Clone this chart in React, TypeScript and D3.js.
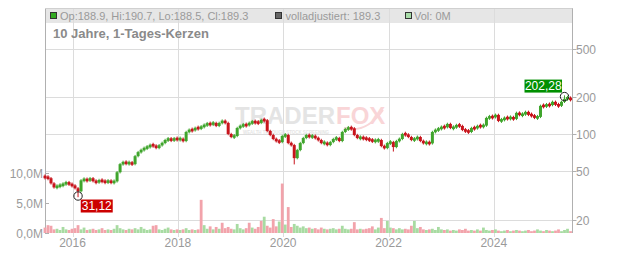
import React from "react";
import * as d3 from "d3";

const W = 632;
const H = 253;
const FONT = "'Liberation Sans', Arial, sans-serif";

// ---- data ----
const startDate = new Date(2015, 5, 24);
const endDate = new Date(2025, 5, 30);
const sampleStepDays = 20.83;
const firstOpen = 44.8;

const closes = [
  44.3, 43.5, 39.5, 36.6, 37.4, 38.1, 38.8, 40.3, 38.6, 38.0,
  36.0, 34.0, 41.8, 42.6, 41.5, 43.5, 41.1, 40.2, 41.9, 41.0,
  40.4, 41.3, 40.1, 41.0, 48.7, 56.7, 58.8, 57.5, 58.1, 56.7,
  65.9, 71.1, 73.9, 76.7, 78.2, 81.2, 80.6, 76.7, 81.0, 84.3,
  89.3, 91.0, 89.0, 91.4, 90.6, 91.2, 87.6, 103.9, 107.9, 107.3,
  112.0, 111.4, 114.2, 118.6, 120.9, 120.2, 123.2, 116.4, 123.2, 127.9,
  123.2, 100.0, 94.5, 96.3, 112.0, 116.4, 118.6, 118.0, 123.2, 125.5,
  124.8, 123.2, 130.4, 129.6, 105.9, 98.1, 91.0, 87.6, 85.9, 96.3,
  98.1, 84.3, 81.2, 63.5, 73.9, 84.3, 92.7, 98.1, 94.5, 96.3,
  92.7, 89.3, 84.3, 84.9, 81.2, 85.9, 91.0, 92.7, 87.6, 103.9,
  109.9, 112.0, 111.3, 98.1, 92.7, 93.4, 92.1, 91.0, 89.3, 87.6,
  88.1, 89.3, 79.7, 76.7, 84.3, 85.9, 78.2, 87.6, 91.0, 100.0,
  99.2, 94.5, 89.3, 91.0, 94.5, 87.6, 84.3, 84.9, 83.8, 103.9,
  107.9, 109.9, 114.2, 113.5, 120.9, 112.0, 112.7, 118.6, 116.4, 107.9,
  105.9, 103.9, 112.0, 111.2, 116.4, 115.6, 117.1, 135.4, 138.0, 137.2,
  143.3, 127.9, 130.4, 135.4, 134.6, 136.1, 132.9, 148.9, 143.3, 144.1,
  151.7, 143.3, 142.4, 135.4, 138.0, 170.0, 169.1, 173.2, 172.3, 183.3,
  173.2, 170.0, 183.3, 194.1, 197.8, 189.3,
];

const volumes = [
  0.9, 1.3, 1.2, 0.6, 0.7, 0.5, 1.0, 0.6, 0.5, 0.7,
  0.8, 1.3, 0.6, 0.9, 0.5, 0.6, 0.7, 0.5, 0.6, 0.8,
  0.5, 0.6, 0.5, 0.7, 1.3, 0.8, 0.6, 0.5, 0.7, 0.6,
  0.8, 0.6, 1.0, 0.7, 0.5, 0.6, 1.2, 1.3, 0.6, 0.5,
  0.7, 0.9, 0.6, 0.5, 0.6, 0.5, 0.6, 0.8, 0.5, 0.6,
  0.5, 0.6, 5.5, 1.3, 0.7, 1.1, 0.6, 1.0, 0.7, 1.7,
  0.8, 1.0, 0.7, 0.6, 1.5, 0.8, 0.6, 0.8, 1.7, 0.9,
  0.7, 1.0, 2.0, 2.7, 1.2, 0.9, 2.3, 1.1, 1.9, 8.2,
  1.4, 4.3, 1.0, 1.5, 1.2, 0.9, 1.1, 0.8, 0.9, 0.7,
  0.8, 0.6, 0.9, 0.7, 0.6, 0.7, 0.8, 0.6, 0.7, 1.2,
  0.7, 0.6, 0.7, 1.8, 0.6, 0.7, 0.6, 0.7, 0.8, 1.1,
  0.6, 0.9, 2.5, 0.8, 2.0, 0.9, 0.8, 0.6, 0.8, 0.6,
  0.7, 0.6, 1.2, 2.0, 0.8, 1.0, 0.6, 0.5, 0.6, 0.7,
  0.5, 1.0, 0.6, 0.5, 0.6, 0.4, 0.5, 0.4, 0.6, 0.5,
  0.7, 0.4, 0.5, 0.4, 0.6, 0.4, 0.9, 0.5, 0.4, 0.5,
  0.6, 0.4, 0.3, 0.4, 0.5, 0.3, 0.4, 0.5, 0.4, 0.3,
  0.4, 0.5, 0.3, 0.4, 0.6, 0.4, 0.3, 0.5, 0.4, 0.3,
  0.4, 0.6, 0.3, 0.5, 0.7, 0.3,
];

// volume spike colours (true = up/green, false = down/pink)
const volumeDirection = [
  { index: 52, up: false },
  { index: 59, up: false },
  { index: 64, up: true },
  { index: 68, up: false },
  { index: 72, up: false },
  { index: 73, up: true },
  { index: 76, up: false },
  { index: 78, up: true },
  { index: 79, up: false },
  { index: 81, up: false },
  { index: 83, up: true },
  { index: 103, up: false },
  { index: 112, up: false },
  { index: 114, up: true },
  { index: 123, up: true },
];

const extraLows = [
  { index: 83, low: 57.7 },
  { index: 116, low: 73.5 },
];

const periodLow = { index: 11, value: 31.12, label: "31,12" };
const periodHigh = { index: 173, value: 202.28, label: "202,28" };

const yearTicks = [2016, 2018, 2020, 2022, 2024];
const priceTicks = [500, 200, 100, 50, 20];
const volumeTicks = [0, 5, 10];

const legendOhlc = "Op:188.9, Hi:190.7, Lo:188.5, Cl:189.3";
const legendAdjusted = "volladjustiert: 189.3";
const legendVolume = "Vol: 0M";
const chartTitle = "10 Jahre, 1-Tages-Kerzen";
const watermarkA = "TRADER";
const watermarkB = "FOX";
const watermarkSub = "WEALTH THROUGH STOCK SCREENING";

// ---- colors ----
const UP = "#3fa52c";
const DOWN = "#c8141c";
const VOL_UP = "#a8dba2";
const VOL_DOWN = "#f2a3ab";
const GRID = "#dcdcdc";
const AXIS = "#b0b0b0";
const TEXT = "#9a9a9a";

export default function App() {
  const left = 45;
  const right = 572.5;
  const top = 8;
  const bottom = 233;

  const x = d3.scaleTime().domain([startDate, endDate]).range([left, right]);
  const y = d3.scaleLog().domain([20, 500]).range([219.5, 48.5]);
  const yVol = d3.scaleLinear().domain([0, 10]).range([bottom, 172.7]);

  const candles = closes.map((c, i) => {
    const o = i === 0 ? firstOpen : closes[i - 1];
    const date = d3.timeHour.offset(startDate, Math.round(i * sampleStepDays * 24));
    let hi = Math.max(o, c);
    let lo = Math.min(o, c);
    const ex = extraLows.find((e) => e.index === i);
    if (ex) lo = Math.min(lo, ex.low);
    if (i === periodLow.index) lo = periodLow.value;
    if (i === periodHigh.index) hi = periodHigh.value;
    const vd = volumeDirection.find((e) => e.index === i);
    const volUp = vd ? vd.up : c >= o;
    return { date, o, c, hi, lo, v: volumes[i], up: c >= o, volUp };
  });

  const lowC = candles[periodLow.index];
  const highC = candles[periodHigh.index];
  const lowX = x(lowC.date);
  const lowY = y(periodLow.value);
  const highX = x(highC.date);
  const highY = y(periodHigh.value);

  return (
    <svg width={W} height={H} style={{ display: "block", position: "absolute", left: 0, top: 0 }} fontFamily={FONT}>
      <rect x={0} y={0} width={W} height={H} fill="#fff" />
      {/* legend band */}
      <rect x={left} y={top} width={right - left} height={15} fill="#e6e6e6" />

      {/* grid */}
      {yearTicks.map((yr) => {
        const gx = Math.round(x(new Date(yr, 0, 1))) + 0.5;
        return <line key={yr} x1={gx} x2={gx} y1={top} y2={237} stroke={GRID} strokeWidth={1} />;
      })}
      {priceTicks.map((p) => {
        const gy = Math.round(y(p)) + 0.5;
        return <line key={p} x1={left} x2={right} y1={gy} y2={gy} stroke={GRID} strokeWidth={1} />;
      })}

      {/* watermark */}
      <g>
        <text x={235} y={124} fontSize={24} fontWeight="bold" fill="#e4e4e4">
          {watermarkA}
        </text>
        <text x={336} y={124} fontSize={24} fontWeight="bold" fill="#f9d5d7">
          {watermarkB}
        </text>
        <path d="M344,128 Q366,134 383,110" fill="none" stroke="#f9d5d7" strokeWidth={2} />
        <text x={243} y={134} fontSize={5.5} fontWeight="bold" fill="#e4e4e4" textLength={86} lengthAdjust="spacingAndGlyphs">
          {watermarkSub}
        </text>
      </g>

      {/* frame */}
      <line x1={left + 0.5} x2={left + 0.5} y1={top} y2={bottom} stroke={AXIS} />
      <line x1={right} x2={right} y1={top} y2={bottom} stroke={AXIS} />
      <line x1={left} x2={right} y1={top + 0.5} y2={top + 0.5} stroke="#d0d0d0" />

      {/* volume */}
      {candles.map((d, i) => {
        const cx = x(d.date);
        const y0 = yVol(d.v);
        return (
          <rect key={"v" + i} x={cx - 1.4} y={y0} width={2.8} height={bottom - y0} fill={d.volUp ? VOL_UP : VOL_DOWN} />
        );
      })}

      {/* candles */}
      {candles.map((d, i) => {
        const cx = x(d.date);
        const col = d.up ? UP : DOWN;
        const yTop = y(Math.max(d.o, d.c));
        const yBot = y(Math.min(d.o, d.c));
        const bodyH = Math.max(2.6, yBot - yTop);
        const mid = (yTop + yBot) / 2;
        return (
          <g key={"c" + i}>
            <line x1={cx} x2={cx} y1={Math.min(y(d.hi), mid - bodyH / 2) - 1.2} y2={Math.max(y(d.lo), mid + bodyH / 2) + 1.2} stroke={col} strokeWidth={1} />
            <rect x={cx - 1.5} y={mid - bodyH / 2} width={3} height={bodyH} fill={col} />
          </g>
        );
      })}

      {/* extremes */}
      <circle cx={lowX} cy={lowY} r={4.2} fill="none" stroke="#222" strokeWidth={1} />
      <rect x={lowX + 2.7} y={lowY + 3.5} width={32} height={13} fill="#cc0000" />
      <text x={lowX + 18.7} y={lowY + 14.2} fontSize={12} fill="#fff" textAnchor="middle">{periodLow.label}</text>

      <circle cx={highX} cy={highY} r={4.2} fill="none" stroke="#222" strokeWidth={1} />
      <rect x={highX - 40} y={highY - 17} width={37.5} height={13} fill="#009000" />
      <text x={highX - 21.25} y={highY - 6.3} fontSize={12} fill="#fff" textAnchor="middle">{periodHigh.label}</text>

      {/* right axis */}
      {priceTicks.map((p) => {
        const ty = Math.round(y(p)) + 0.5;
        return (
          <g key={"pt" + p}>
            <line x1={right} x2={right + 4} y1={ty} y2={ty} stroke={AXIS} />
            <text x={right + 3.5} y={ty + 4.3} fontSize={12} fill={TEXT}>{p}</text>
          </g>
        );
      })}

      {/* left axis */}
      {volumeTicks.map((v) => {
        const ty = Math.round(yVol(v)) + 0.5;
        return (
          <g key={"vt" + v}>
            <line x1={left} x2={left + 4} y1={ty} y2={ty} stroke={AXIS} />
            <text x={43} y={ty + 4.3} fontSize={12} fill={TEXT} textAnchor="end">
              {d3.format(".1f")(v).replace(".", ",") + "M"}
            </text>
          </g>
        );
      })}

      {/* bottom axis labels */}
      {yearTicks.map((yr) => (
        <text key={"yl" + yr} x={x(new Date(yr, 0, 1))} y={247} fontSize={12} fill={TEXT} textAnchor="middle">
          {yr}
        </text>
      ))}

      {/* legend */}
      <rect x={50.5} y={12.5} width={6} height={6} fill="#33aa22" stroke="#333" />
      <text x={60} y={19.5} fontSize={11} fill={TEXT}>{legendOhlc}</text>
      <rect x={275.5} y={12.5} width={6} height={6} fill="#666" stroke="#333" />
      <text x={285.5} y={19.5} fontSize={11} fill={TEXT}>{legendAdjusted}</text>
      <rect x={405.5} y={12.5} width={6} height={6} fill="#a8dca8" stroke="#333" />
      <text x={414} y={19.5} fontSize={11} fill={TEXT}>{legendVolume}</text>

      {/* title */}
      <text x={53} y={38} fontSize={13} fontWeight="bold" fill="#8a8a8a">{chartTitle}</text>
    </svg>
  );
}
